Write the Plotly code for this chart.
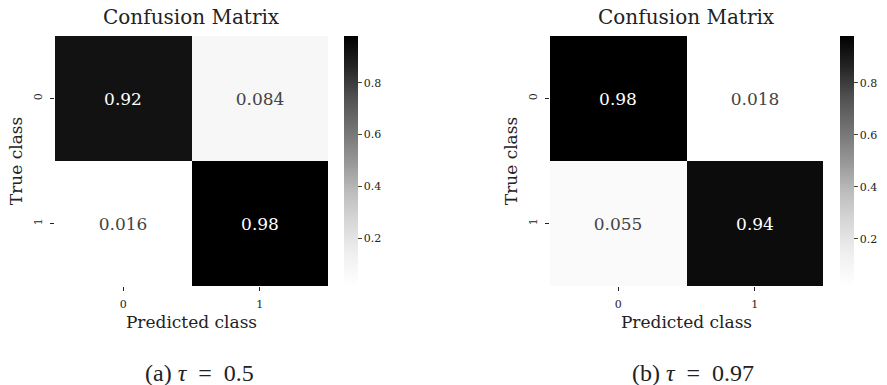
import plotly.graph_objects as go

classes = ["0", "1"]
cm_a = [[0.92, 0.084], [0.016, 0.98]]
cm_b = [[0.98, 0.018], [0.055, 0.94]]
titles = ["Confusion Matrix", "Confusion Matrix"]
captions = ["(a) <i>τ</i>\u2002=\u20020.5", "(b) <i>τ</i>\u2002=\u20020.97"]
cbar_ticks = [0.2, 0.4, 0.6, 0.8]

W, H = 887, 385
SERIF = "DejaVu Serif"

greys = [
    [0.0, "#ffffff"], [0.125, "#f0f0f0"], [0.25, "#d9d9d9"], [0.375, "#bdbdbd"],
    [0.5, "#969696"], [0.625, "#737373"], [0.75, "#525252"], [0.875, "#252525"],
    [1.0, "#000000"],
]

def fmt(v):
    return f"{v:.2g}"

fig = go.Figure()

panels = [
    dict(z=cm_a, xd=(55, 328), cbx=344, xa="x", ya="y", cap_x=199),
    dict(z=cm_b, xd=(550, 823), cbx=840, xa="x2", ya="y2", cap_x=693),
]
y_top, y_bot = 36, 286

for i, p in enumerate(panels):
    z = p["z"]
    flat = [v for row in z for v in row]
    fig.add_trace(go.Heatmap(
        z=z, x=classes, y=classes,
        text=[[fmt(v) for v in row] for row in z],
        texttemplate="%{text}",
        textfont=dict(family=SERIF, size=17),
        colorscale=greys, zmin=min(flat), zmax=max(flat),
        xaxis=p["xa"], yaxis=p["ya"],
        colorbar=dict(
            x=p["cbx"] / W, xanchor="left",
            y=1 - (y_top + y_bot) / 2 / H, yanchor="middle",
            len=y_bot - y_top, lenmode="pixels",
            thickness=14, thicknessmode="pixels",
            outlinewidth=0, ticks="outside", ticklen=4, tickwidth=1,
            tickvals=cbar_ticks, ticktext=[str(t) for t in cbar_ticks],
            tickfont=dict(family=SERIF, size=11, color="#222"),
            xpad=0, ypad=0,
        ),
        hoverinfo="skip",
    ))
    sfx = "" if i == 0 else "2"
    fig.update_layout(**{
        "xaxis" + sfx: dict(
            domain=[p["xd"][0] / W, p["xd"][1] / W], anchor="y" + sfx,
            showgrid=False, zeroline=False, showline=False, automargin=False,
            ticks="outside", ticklen=4, tickcolor="#222", ticklabelstandoff=4,
            tickfont=dict(family=SERIF, size=11, color="#222"),
            title=dict(text="Predicted class", font=dict(family=SERIF, size=17, color="#222"), standoff=5),
        ),
        "yaxis" + sfx: dict(
            domain=[1 - y_bot / H, 1 - y_top / H], anchor="x" + sfx,
            autorange="reversed", automargin=False,
            showgrid=False, zeroline=False, showline=False,
            ticks="outside", ticklen=4, tickcolor="#222", tickangle=-90, ticklabelstandoff=4,
            tickfont=dict(family=SERIF, size=11, color="#222"),
            title=dict(text="True class", font=dict(family=SERIF, size=17, color="#222"), standoff=4),
        ),
    })
    fig.add_annotation(
        text=titles[i], xref="paper", yref="paper",
        x=(p["xd"][0] + p["xd"][1]) / 2 / W, y=1 - 17 / H,
        xanchor="center", yanchor="middle", showarrow=False,
        font=dict(family=SERIF, size=20, color="#222"),
    )
    fig.add_annotation(
        text=captions[i], xref="paper", yref="paper",
        x=p["cap_x"] / W, y=1 - 373 / H,
        xanchor="center", yanchor="middle", showarrow=False,
        font=dict(family="Liberation Serif", size=24, color="#222"),
    )

fig.update_layout(
    width=W, height=H,
    margin=dict(l=0, r=0, t=0, b=0, pad=0, autoexpand=False),
    paper_bgcolor="white", plot_bgcolor="white",
    showlegend=False,
)

fig.write_html("out.html", config={"displayModeBar": False})

with open("out.html", encoding="utf-8") as f:
    html = f.read()
html = html.replace("<body>", '<body style="margin:0;padding:0;overflow:hidden">', 1)
with open("out.html", "w", encoding="utf-8") as f:
    f.write(html)
